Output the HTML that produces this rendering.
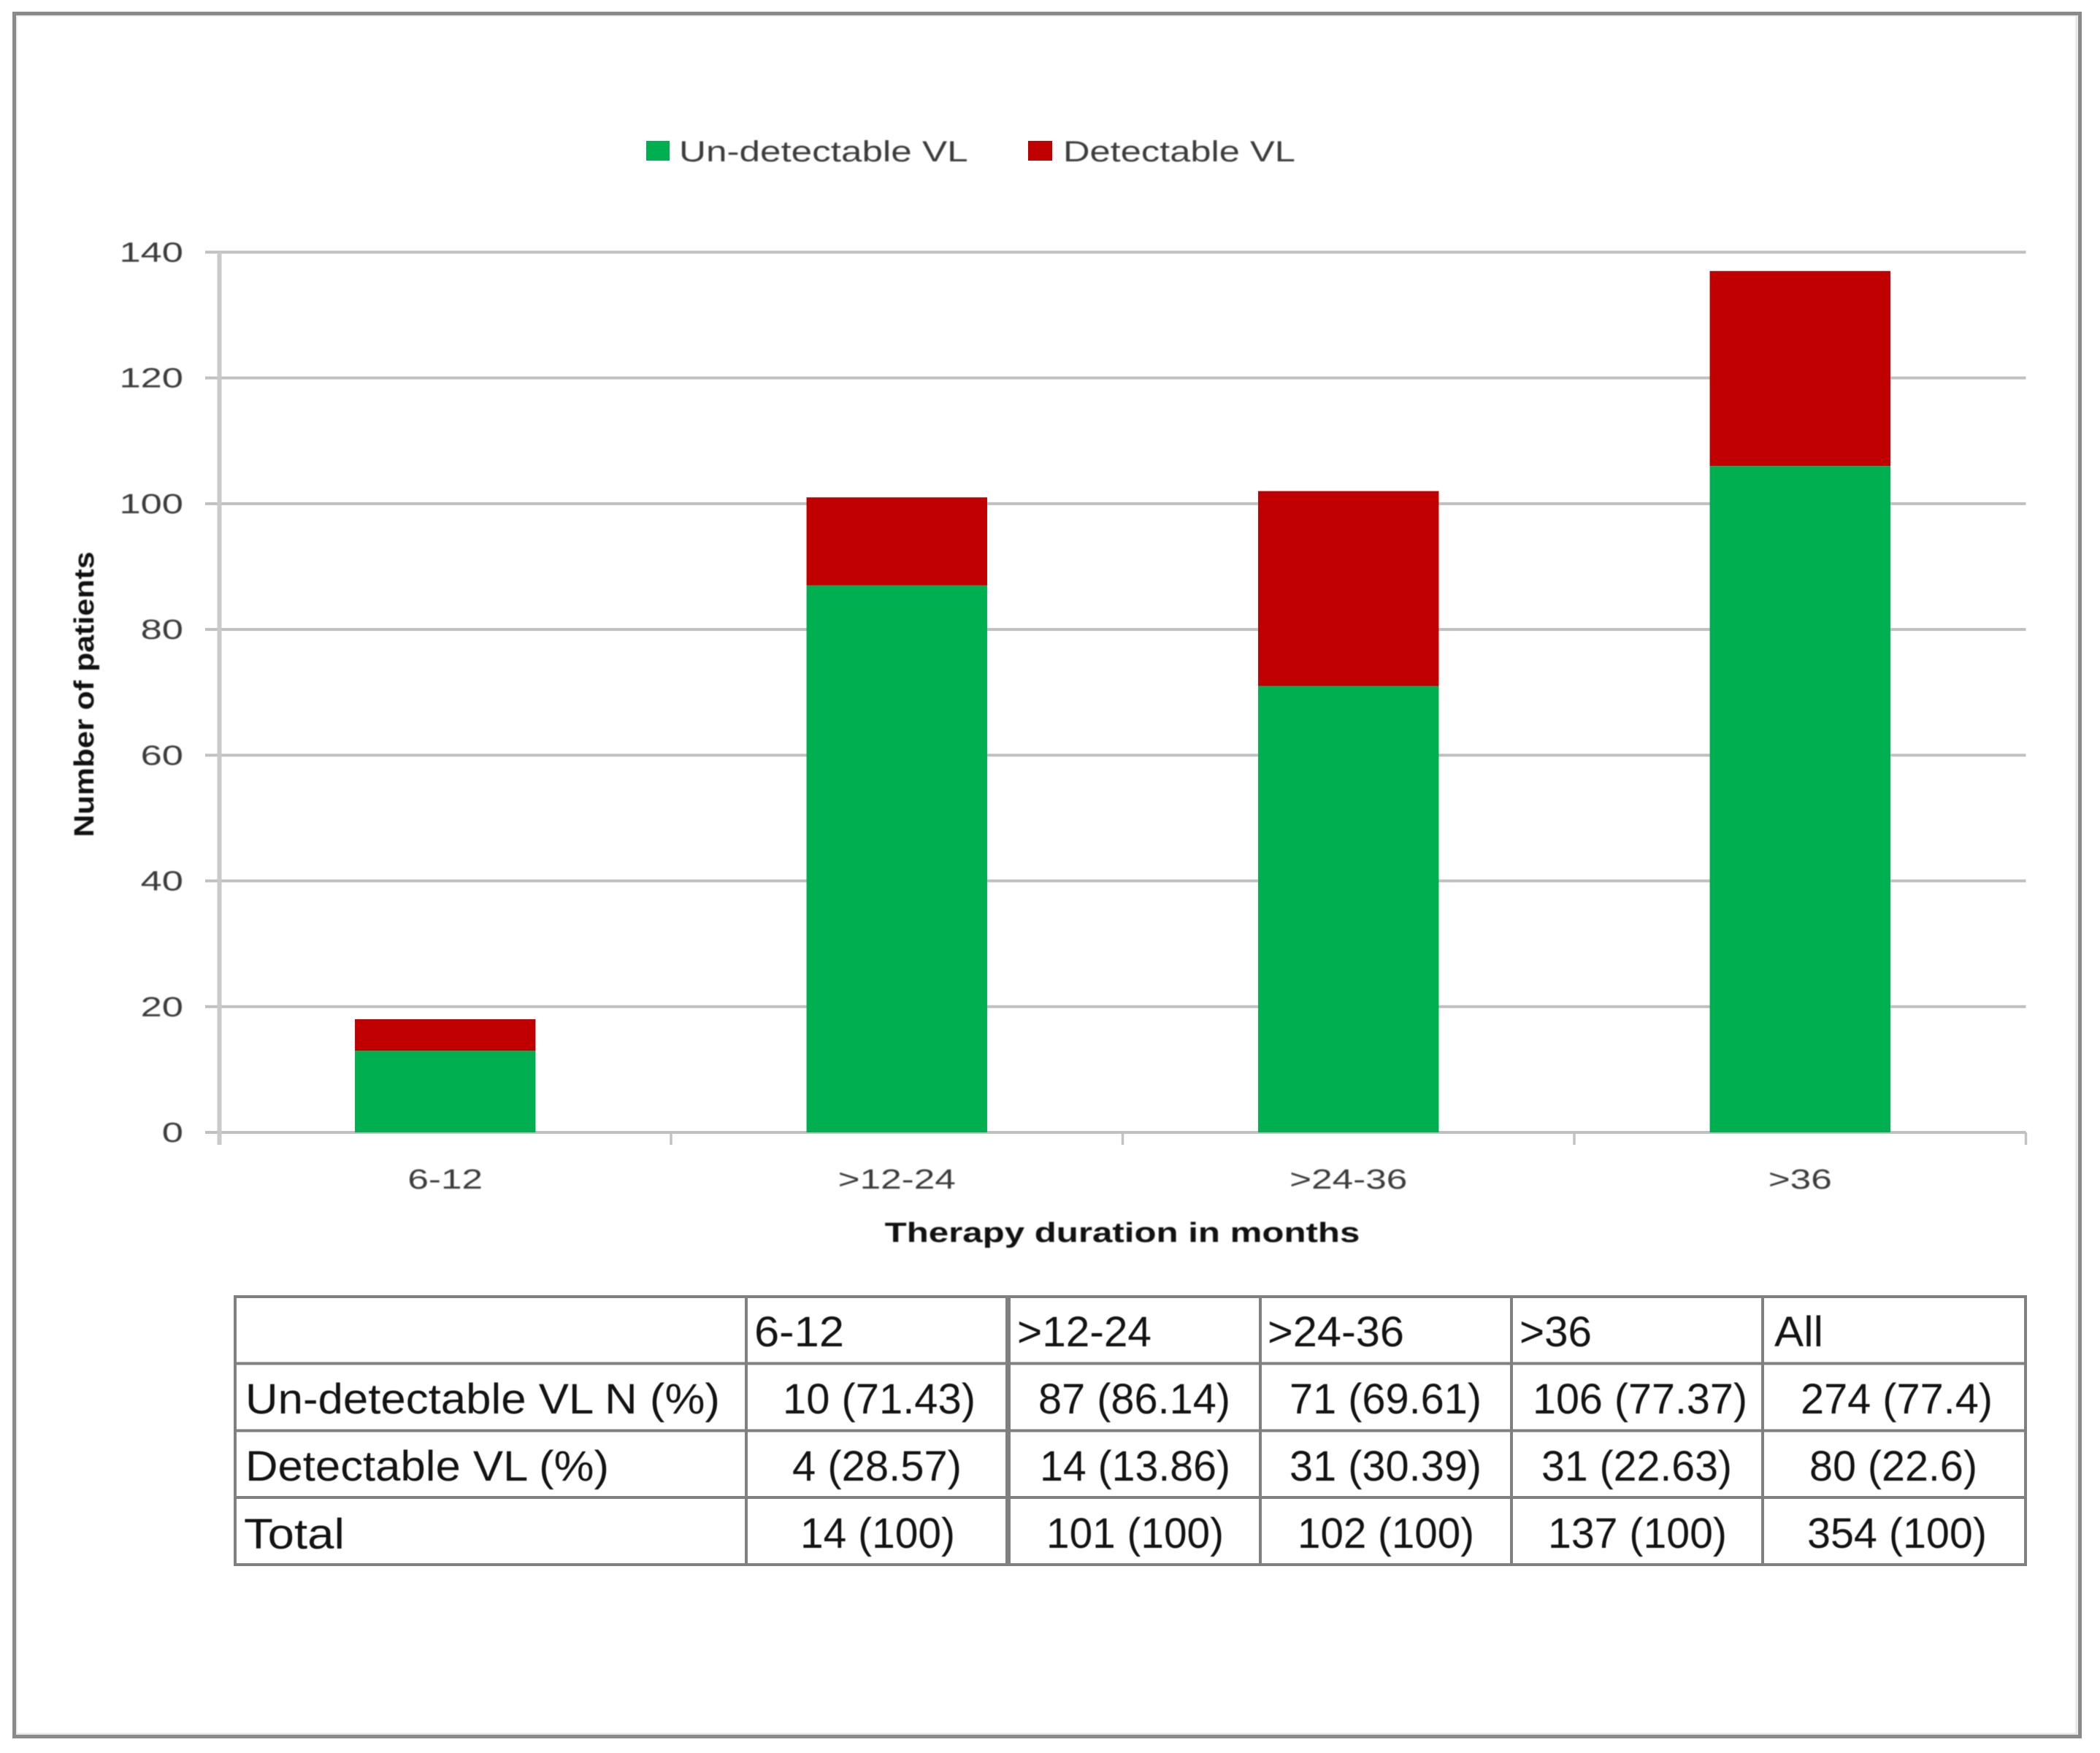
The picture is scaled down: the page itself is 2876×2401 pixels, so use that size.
<!DOCTYPE html>
<html lang="en">
<head>
<meta charset="utf-8">
<title>Viral load by therapy duration</title>
<style>
html,body{margin:0;padding:0;background:#fff;width:2876px;height:2401px;overflow:hidden}
svg{display:block;position:absolute;left:0;top:0}
text{font-family:"Liberation Sans",Arial,sans-serif}
.soft{filter:blur(.9px)}
.tc{font-size:58px;fill:#141414;filter:blur(.6px)}
.tl{stroke:#808080;stroke-width:4}
</style>
</head>
<body>
<svg id="figure" width="2876" height="2401" viewBox="0 0 2876 2401" xmlns="http://www.w3.org/2000/svg">
  <rect x="0" y="0" width="2876" height="2401" fill="#fff"/>
  <rect x="22" y="21" width="2822" height="2354" fill="none" stroke="#e6e6e6" stroke-width="3"/>
  <rect x="19.5" y="18.5" width="2829" height="2360" fill="none" stroke="#8a8a8a" stroke-width="5"/>

  <g id="chart"></g>

  <g>
    <rect class="tl" x="322" y="1776" width="2452" height="367" fill="none"/>
    <line class="tl" x1="322" x2="2774" y1="1867.5" y2="1867.5"/>
    <line class="tl" x1="322" x2="2774" y1="1959.5" y2="1959.5"/>
    <line class="tl" x1="322" x2="2774" y1="2051" y2="2051"/>
    <line class="tl" x1="1022" x2="1022" y1="1776" y2="2143"/>
    <line class="tl" style="stroke-width:7" x1="1380.5" x2="1380.5" y1="1776" y2="2143"/>
    <line class="tl" x1="1726" x2="1726" y1="1776" y2="2143"/>
    <line class="tl" x1="2070" x2="2070" y1="1776" y2="2143"/>
    <line class="tl" x1="2414" x2="2414" y1="1776" y2="2143"/>

    <text class="tc" x="1033" y="1844" textLength="123" lengthAdjust="spacingAndGlyphs">6-12</text>
    <text class="tc" x="1393" y="1844" textLength="184" lengthAdjust="spacingAndGlyphs">&gt;12-24</text>
    <text class="tc" x="1736" y="1844" textLength="187" lengthAdjust="spacingAndGlyphs">&gt;24-36</text>
    <text class="tc" x="2081" y="1844" textLength="99" lengthAdjust="spacingAndGlyphs">&gt;36</text>
    <text class="tc" x="2430" y="1844" textLength="67" lengthAdjust="spacingAndGlyphs">All</text>

    <text class="tc" x="336" y="1936" textLength="650" lengthAdjust="spacingAndGlyphs">Un-detectable VL N (%)</text>
    <text class="tc" x="336" y="2028" textLength="498" lengthAdjust="spacingAndGlyphs">Detectable VL (%)</text>
    <text class="tc" x="334" y="2121" textLength="138" lengthAdjust="spacingAndGlyphs">Total</text>

    <text class="tc" x="1072" y="1936" textLength="264" lengthAdjust="spacingAndGlyphs">10 (71.43)</text>
    <text class="tc" x="1422" y="1936" textLength="263" lengthAdjust="spacingAndGlyphs">87 (86.14)</text>
    <text class="tc" x="1766" y="1936" textLength="263" lengthAdjust="spacingAndGlyphs">71 (69.61)</text>
    <text class="tc" x="2099" y="1936" textLength="294" lengthAdjust="spacingAndGlyphs">106 (77.37)</text>
    <text class="tc" x="2466" y="1936" textLength="263" lengthAdjust="spacingAndGlyphs">274 (77.4)</text>

    <text class="tc" x="1085" y="2028" textLength="232" lengthAdjust="spacingAndGlyphs">4 (28.57)</text>
    <text class="tc" x="1424" y="2028" textLength="261" lengthAdjust="spacingAndGlyphs">14 (13.86)</text>
    <text class="tc" x="1766" y="2028" textLength="263" lengthAdjust="spacingAndGlyphs">31 (30.39)</text>
    <text class="tc" x="2111" y="2028" textLength="261" lengthAdjust="spacingAndGlyphs">31 (22.63)</text>
    <text class="tc" x="2478" y="2028" textLength="230" lengthAdjust="spacingAndGlyphs">80 (22.6)</text>

    <text class="tc" x="1096" y="2120" textLength="212" lengthAdjust="spacingAndGlyphs">14 (100)</text>
    <text class="tc" x="1433" y="2120" textLength="243" lengthAdjust="spacingAndGlyphs">101 (100)</text>
    <text class="tc" x="1777" y="2120" textLength="242" lengthAdjust="spacingAndGlyphs">102 (100)</text>
    <text class="tc" x="2120" y="2120" textLength="245" lengthAdjust="spacingAndGlyphs">137 (100)</text>
    <text class="tc" x="2475" y="2120" textLength="246" lengthAdjust="spacingAndGlyphs">354 (100)</text>
  </g>
</svg>

<script>
const categories = ['6-12', '>12-24', '>24-36', '>36'];
const undetectableValues = [13, 87, 71, 106];
const detectableValues = [5, 14, 31, 31];
const yTickValues = [0, 20, 40, 60, 80, 100, 120, 140];
const seriesNames = ['Un-detectable VL', 'Detectable VL'];

const NS = 'http://www.w3.org/2000/svg';
const chart = document.getElementById('chart');
const plotLeft = 300.5, plotRight = 2774.5, plotBottom = 1551, plotTop = 345.4;
const yMax = 140;
const barRatio = 0.4;

function yScale(v) { return plotBottom - (v / yMax) * (plotBottom - plotTop); }
function bandWidth() { return (plotRight - plotLeft) / categories.length; }
function xBand(i) { return plotLeft + i * bandWidth(); }

function addLine(name, x1, y1, x2, y2, color, width) {
  const el = document.createElementNS(NS, 'line');
  
  
  el.setAttribute('x1', x1);
  el.setAttribute('y1', y1);
  el.setAttribute('x2', x2);
  el.setAttribute('y2', y2);
  el.setAttribute('stroke', color);
  el.setAttribute('stroke-width', width);
  chart.appendChild(el);
  return el;
}

function addRect(name, x, y, w, h, color) {
  const el = document.createElementNS(NS, 'rect');
  
  
  el.setAttribute('x', x);
  el.setAttribute('y', y);
  el.setAttribute('width', w);
  el.setAttribute('height', h);
  el.setAttribute('fill', color);
  chart.appendChild(el);
  return el;
}

function addText(name, str, x, y, size, anchor, stretch, color, weight, rotate) {
  const el = document.createElementNS(NS, 'text');
  
  
  el.setAttribute('class', 'soft');
  el.setAttribute('x', x);
  el.setAttribute('y', y);
  el.setAttribute('font-size', size);
  el.setAttribute('text-anchor', anchor);
  el.setAttribute('fill', color);
  if (weight) el.setAttribute('font-weight', weight);
  if (rotate) el.setAttribute('transform', 'rotate(' + rotate + ' ' + x + ' ' + y + ')');
  el.textContent = str;
  chart.appendChild(el);
  const natural = el.getComputedTextLength();
  el.setAttribute('textLength', natural * stretch);
  el.setAttribute('lengthAdjust', 'spacingAndGlyphs');
  return el;
}

/* gridlines and y ticks */
yTickValues.forEach(function (v) {
  const y = yScale(v);
  addLine('gridline-' + v, 281, y, plotRight, y, '#c0c0c0', 4);
  addText('y-tick-label-' + v, String(v), 251, y + 13, 38, 'end', 1.38, '#3c3c3c', null, null);
});

/* y axis */
addLine('y-axis-line', plotLeft, plotTop, plotLeft, plotBottom + 17, '#cacaca', 6);

/* x ticks */
for (let i = 1; i <= categories.length; i++) {
  addLine('x-tick-' + i, xBand(i), plotBottom, xBand(i), plotBottom + 17, '#c2c2c2', 3.5);
}

/* bars */
categories.forEach(function (c, i) {
  const w = bandWidth() * barRatio;
  const x = xBand(i) + (bandWidth() - w) / 2;
  const yGreen = yScale(undetectableValues[i]);
  const yRed = yScale(undetectableValues[i] + detectableValues[i]);
  addRect('bar-undetectable-' + c, x, yGreen, w, plotBottom - yGreen, '#00B050');
  addRect('bar-detectable-' + c, x, yRed, w, yGreen - yRed, '#C00000');
  addText('x-tick-label-' + c, c, xBand(i) + bandWidth() / 2, 1628, 38, 'middle', 1.35, '#3c3c3c', null, null);
});

/* axis titles */
addText('x-axis-title', 'Therapy duration in months', 1537, 1701, 38, 'middle', 1.295, '#111', 'bold', null);
addText('y-axis-title', 'Number of patients', 128, 951, 38, 'middle', 1.13, '#111', 'bold', -90);

/* legend */
addRect('legend-swatch-undetectable', 885, 193, 32, 27, '#00B050');
addText('legend-label-undetectable', seriesNames[0], 930, 221, 40, 'start', 1.28, '#3c3c3c', null, null);
addRect('legend-swatch-detectable', 1408, 193, 33, 27, '#C00000');
addText('legend-label-detectable', seriesNames[1], 1456, 221, 40, 'start', 1.265, '#3c3c3c', null, null);
</script>
</body>
</html>
